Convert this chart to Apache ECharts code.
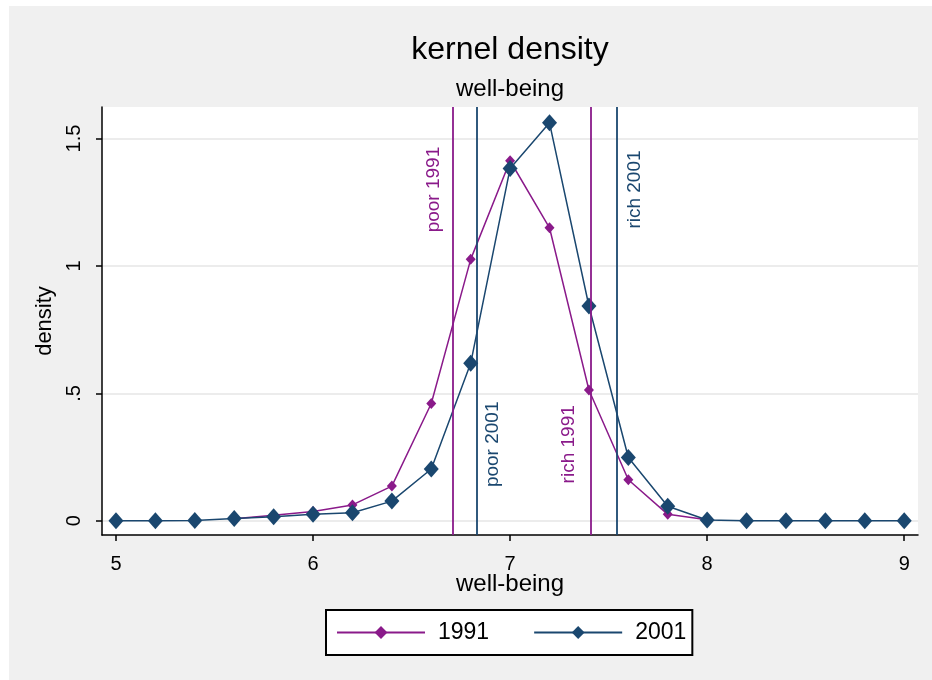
<!DOCTYPE html>
<html>
<head>
<meta charset="utf-8">
<script src="https://cdn.jsdelivr.net/npm/echarts@6/dist/echarts.min.js"></script>
<style>
html,body{margin:0;padding:0;background:#fff;}
#chart{width:932px;height:680px;}
</style>
</head>
<body>
<div id="chart"></div>
<script>
// ---- data ----
var xValues2001 = [5.0, 5.2, 5.4, 5.6, 5.8, 6.0, 6.2, 6.4, 6.6, 6.8, 7.0, 7.2, 7.4, 7.6, 7.8, 8.0, 8.2, 8.4, 8.6, 8.8, 9.0];
var density2001 = [0, 0, 0.001, 0.009, 0.016, 0.025, 0.031, 0.077, 0.203, 0.618, 1.383, 1.562, 0.843, 0.248, 0.057, 0.003, 0, 0, 0, 0, 0];
var xValues1991 = [5.6, 5.8, 6.0, 6.2, 6.4, 6.6, 6.8, 7.0, 7.2, 7.4, 7.6, 7.8, 8.0];
var density1991 = [0.008, 0.022, 0.036, 0.062, 0.136, 0.46, 1.026, 1.413, 1.15, 0.513, 0.161, 0.025, 0.004];
var lines1991 = [6.71, 7.41];
var lines2001 = [6.83, 7.54];
var lineLabels = ['poor 1991', 'rich 1991', 'poor 2001', 'rich 2001'];
var lineLabelX = [6.615, 7.30, 6.91, 7.635];
var lineLabelY = [1.30, 0.30, 0.30, 1.30];
var xTickValues = [5, 6, 7, 8, 9];
var xTickLabels = ['5', '6', '7', '8', '9'];
var yTickValues = [0, 0.5, 1, 1.5];
var yTickLabels = ['0', '.5', '1', '1.5'];

var C1991 = '#8a1a8a';
var C2001 = '#1a476f';
var FONT = 'Liberation Sans, Arial, sans-serif';

function pairs(xs, ys) { return xs.map(function (x, i) { return [x, ys[i]]; }); }
function labelFor(values, labels) {
  return function (v) {
    for (var i = 0; i < values.length; i++) { if (Math.abs(values[i] - v) < 1e-6) return labels[i]; }
    return '';
  };
}

var labelData = lineLabels.map(function (t, i) {
  return {
    value: [lineLabelX[i], lineLabelY[i]],
    name: t,
    label: { color: t.indexOf('1991') >= 0 ? C1991 : C2001 }
  };
});

var chart = echarts.init(document.getElementById('chart'), null, { renderer: 'canvas' });
chart.setOption({
  backgroundColor: '#ffffff',
  animation: false,
  graphic: [{
    type: 'rect', z: -100, silent: true,
    shape: { x: 9, y: 6, width: 932, height: 680 },
    style: { fill: '#f0f0f0' }
  }],
  title: [{
    text: 'kernel density', left: 510, top: 34, textAlign: 'center', padding: 0,
    textStyle: { fontSize: 32, fontWeight: 'normal', fontFamily: FONT, color: '#000' }
  }, {
    text: 'well-being', left: 510, top: 77, textAlign: 'center', padding: 0,
    textStyle: { fontSize: 24, fontWeight: 'normal', fontFamily: FONT, color: '#000' }
  }],
  legend: {
    data: ['1991', '2001'],
    left: 326, top: 610,
    orient: 'horizontal',
    backgroundColor: '#fff',
    borderColor: '#000', borderWidth: 2,
    padding: [11, 6, 11, 10],
    itemWidth: 88, itemHeight: 16, itemGap: 44,
    textStyle: { fontSize: 23, fontFamily: FONT, color: '#000', padding: [0, 0, 0, 8] }
  },
  grid: {
    left: 102, right: 14, top: 107, bottom: 145,
    show: true, backgroundColor: '#ffffff', borderWidth: 0
  },
  xAxis: {
    type: 'value', min: 4.929, max: 9.07,
    name: 'well-being', nameLocation: 'middle', nameGap: 37, nameMoveOverlap: false,
    nameTextStyle: { fontSize: 24, fontFamily: FONT, color: '#000' },
    axisLine: { show: true, onZero: false, lineStyle: { color: '#000', width: 1.5 } },
    axisTick: { show: true, length: 6, customValues: xTickValues, lineStyle: { color: '#000', width: 1.5 } },
    axisLabel: { customValues: xTickValues, formatter: labelFor(xTickValues, xTickLabels), fontSize: 20, fontFamily: FONT, color: '#000', margin: 19 },
    splitLine: { show: false }
  },
  yAxis: {
    type: 'value', min: -0.056, max: 1.624,
    name: 'density', nameLocation: 'middle', nameGap: 46, nameMoveOverlap: false,
    nameTextStyle: { fontSize: 22, fontFamily: FONT, color: '#000' },
    axisLine: { show: true, onZero: false, lineStyle: { color: '#000', width: 1.5 } },
    axisTick: { show: true, length: 6, customValues: yTickValues, lineStyle: { color: '#000', width: 1.5 } },
    axisLabel: { customValues: yTickValues, formatter: labelFor(yTickValues, yTickLabels), rotate: 90, fontSize: 20, fontFamily: FONT, color: '#000', margin: 18 },
    splitLine: { show: true, lineStyle: { color: '#e6e6e6', width: 1.5 } }
  },
  series: [{
    name: '1991', type: 'line',
    data: pairs(xValues1991, density1991),
    symbol: 'diamond', symbolSize: [10, 11], showAllSymbol: true,
    lineStyle: { color: C1991, width: 1.5 },
    itemStyle: { color: C1991 },
    markLine: {
      silent: true, symbol: ['none', 'none'], label: { show: false },
      lineStyle: { color: C1991, width: 1.8, type: 'solid' },
      data: lines1991.map(function (v) { return { xAxis: v }; })
    },
    z: 2
  }, {
    name: '2001', type: 'line',
    data: pairs(xValues2001, density2001),
    symbol: 'diamond', symbolSize: [15, 17], showAllSymbol: true,
    lineStyle: { color: C2001, width: 1.5 },
    itemStyle: { color: C2001 },
    markLine: {
      silent: true, symbol: ['none', 'none'], label: { show: false },
      lineStyle: { color: C2001, width: 1.8, type: 'solid' },
      data: lines2001.map(function (v) { return { xAxis: v }; })
    },
    z: 3
  }, {
    name: 'labels', type: 'scatter',
    data: labelData,
    symbol: 'circle', symbolSize: 2, itemStyle: { color: 'rgba(0,0,0,0)' },
    label: {
      show: true, position: 'inside', rotate: 90, opacity: 1,
      formatter: function (p) { return p.name; },
      fontSize: 19, fontFamily: FONT
    },
    labelLayout: { hideOverlap: false },
    silent: true, z: 4
  }]
});
</script>
</body>
</html>
